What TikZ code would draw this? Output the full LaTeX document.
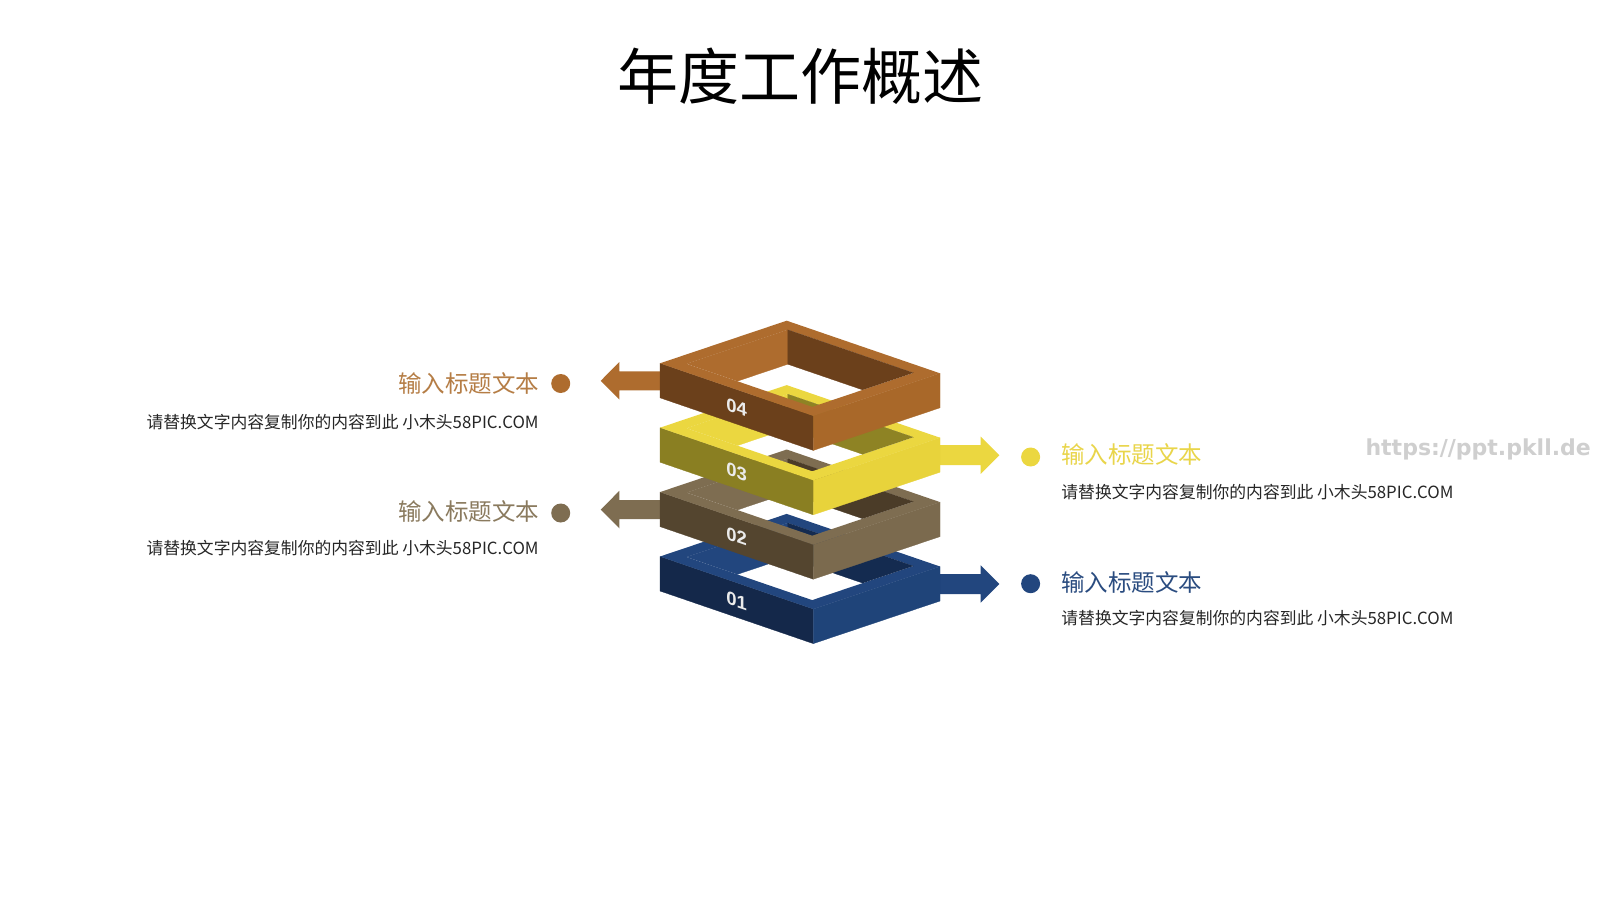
\documentclass[tikz,border=0pt]{standalone}
\usepackage{fontspec}
\newfontfamily\cjk{Noto Sans CJK SC}
\newfontfamily\numfont{Liberation Sans}
\newfontfamily\wmfont{DejaVu Sans}
\usetikzlibrary{calc}
\definecolor{brTop}{HTML}{AE6C2E}
\definecolor{brRight}{HTML}{A96829}
\definecolor{brLeft}{HTML}{6B401B}
\definecolor{brIn}{HTML}{6B401B}
\definecolor{yeTop}{HTML}{EBD740}
\definecolor{yeRight}{HTML}{E8D33B}
\definecolor{yeLeft}{HTML}{8A7F22}
\definecolor{yeIn}{HTML}{8E8324}
\definecolor{taTop}{HTML}{7E6D51}
\definecolor{taRight}{HTML}{7B6A4E}
\definecolor{taLeft}{HTML}{54452F}
\definecolor{taIn}{HTML}{4B3C28}
\definecolor{blTop}{HTML}{22467E}
\definecolor{blRight}{HTML}{1F4479}
\definecolor{blLeft}{HTML}{14284A}
\definecolor{blIn}{HTML}{142B50}
\definecolor{brHead}{HTML}{B57D45}
\definecolor{taHead}{HTML}{8A7A5E}
\definecolor{yeHead}{HTML}{E9D54A}
\definecolor{blHead}{HTML}{2A4C80}
\definecolor{bodytxt}{HTML}{262626}
\definecolor{wmgray}{HTML}{CFCFCF}
\tikzset{
  titletxt/.style={font=\cjk\fontsize{61}{70}\selectfont, text=black, inner sep=0pt},
  headtxt/.style={font=\cjk\fontsize{23.5}{28}\selectfont, inner sep=0pt},
  bodytext/.style={font=\cjk\fontsize{16.8}{20}\selectfont, text=bodytxt, inner sep=0pt},
  dotmark/.style={circle, minimum size=19pt, inner sep=0pt},
  numlbl/.style={font=\numfont\bfseries\fontsize{18.5}{20}\selectfont, text=white!92!black, inner sep=0pt, yslant=-0.344},
  wmtxt/.style={font=\wmfont\bfseries\fontsize{22}{24}\selectfont, text=wmgray, inner sep=0pt},
  face/.style={fill=#1, draw=#1, line width=0.3pt, line join=round}
}
\def\H{34.5}
% one ring layer: #1 dy, #2 top, #3 right, #4 left, #5 inner, #6 label
\newcommand\ringlayer[6]{%
  \coordinate (B) at (786.7,{320.7+#1});
  \coordinate (L) at (660,{363.3+#1});
  \coordinate (R) at (940,{373.3+#1});
  \coordinate (F) at (813.3,{415.9+#1});
  \coordinate (iB) at (787.8,{329.7+#1});
  \coordinate (iL) at (686.5,{363.8+#1});
  \coordinate (iR) at (913.5,{372.8+#1});
  \coordinate (iF) at (812.2,{406.9+#1});
  \fill[face=#4] (L) -- (F) -- ($(F)+(0,\H)$) -- ($(L)+(0,\H)$) -- cycle;
  \fill[face=#3] (F) -- (R) -- ($(R)+(0,\H)$) -- ($(F)+(0,\H)$) -- cycle;
  \fill[#2, even odd rule] (B) -- (L) -- (F) -- (R) -- cycle (iB) -- (iL) -- (iF) -- (iR) -- cycle;
  \begin{scope}
    \clip (iB) -- (iL) -- (iF) -- (iR) -- cycle;
    \fill[face=#2] (iB) -- (iL) -- ($(iL)+(0,\H)$) -- ($(iB)+(0,\H)$) -- cycle;
    \fill[face=#5] (iB) -- (iR) -- ($(iR)+(0,\H)$) -- ($(iB)+(0,\H)$) -- cycle;
  \end{scope}
  \node[numlbl] (n#6) at (736.7,{407.5+#1}) {#6};
}
\newcommand\arrL[2]{%
  \fill[#2] (670,{371.3+#1}) -- (619.3,{371.3+#1}) -- (619.3,{362.1+#1}) -- (600.7,{380.8+#1})
    -- (619.3,{399.5+#1}) -- (619.3,{390.3+#1}) -- (670,{390.3+#1}) -- cycle;}
\newcommand\arrR[2]{%
  \fill[#2] (930,{380.8+#1}) -- (980.7,{380.8+#1}) -- (980.7,{372.1+#1}) -- (999.3,{390.8+#1})
    -- (980.7,{409.5+#1}) -- (980.7,{400.8+#1}) -- (930,{400.8+#1}) -- cycle;}
\begin{document}
\begin{tikzpicture}[x=1pt,y=-1pt]
\fill[white] (0,0) rectangle (1600,900);
\useasboundingbox (0,0) rectangle (1600,900);
% title
\node[titletxt] (title) at (800.8,76.7) {年度工作概述};
% arrows (behind rings)
\arrR{193.2}{blTop}
\arrL{128.8}{taTop}
\arrR{64.4}{yeTop}
\arrL{0}{brTop}
% rings, bottom to top
\ringlayer{193.2}{blTop}{blRight}{blLeft}{blIn}{01}
\ringlayer{128.8}{taTop}{taRight}{taLeft}{taIn}{02}
\ringlayer{64.4}{yeTop}{yeRight}{yeLeft}{yeIn}{03}
\ringlayer{0}{brTop}{brRight}{brLeft}{brIn}{04}
% left texts
\node[headtxt, text=brHead, anchor=east] (h4) at (539.3,383.3) {输入标题文本};
\node[dotmark, fill=brTop] (d4) at (560.7,383.5) {};
\node[bodytext, anchor=east] (b4) at (538.8,421.7) {请替换文字内容复制你的内容到此 小木头58PIC.COM};
\node[headtxt, text=taHead, anchor=east] (h2) at (539.3,511.5) {输入标题文本};
\node[dotmark, fill=taTop] (d2) at (560.7,513) {};
\node[bodytext, anchor=east] (b2) at (538.8,548) {请替换文字内容复制你的内容到此 小木头58PIC.COM};
% right texts
\node[dotmark, fill=yeTop] (d3) at (1030.6,457) {};
\node[headtxt, text=yeHead, anchor=west] (h3) at (1061.2,454.5) {输入标题文本};
\node[bodytext, anchor=west] (b3) at (1061.2,491.8) {请替换文字内容复制你的内容到此 小木头58PIC.COM};
\node[dotmark, fill=blTop] (d1) at (1030.6,583.7) {};
\node[headtxt, text=blHead, anchor=west] (h1) at (1061.2,582) {输入标题文本};
\node[bodytext, anchor=west] (b1) at (1061.2,618.4) {请替换文字内容复制你的内容到此 小木头58PIC.COM};
% watermark
\node[wmtxt, anchor=east] (wm) at (1591,449) {https://ppt.pkll.de};
\end{tikzpicture}
\end{document}
